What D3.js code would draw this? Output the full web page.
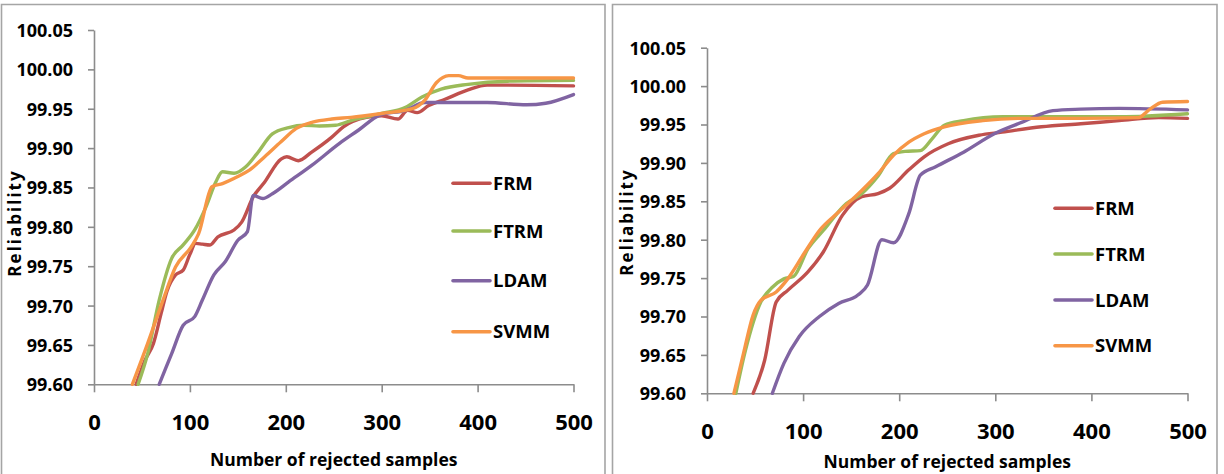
<!DOCTYPE html>
<html><head><meta charset="utf-8">
<script src="https://cdn.jsdelivr.net/npm/d3@7"></script>
<style>
body{margin:0;background:#fff;}
svg{display:block;}
text{font-family:"Open Sans",sans-serif;font-weight:700;fill:#000;}
</style></head>
<body>
<svg id="chart" width="1224" height="474"></svg>
<script>
// ---- data ----
const seriesNames = ["FRM","FTRM","LDAM","SVMM"];
const yTicks = [99.60,99.65,99.70,99.75,99.80,99.85,99.90,99.95,100.00,100.05];
const xTicks = [0,100,200,300,400,500];
const xTitle = "Number of rejected samples";
const yTitle = "Reliability";

// Left chart: [rejected samples, reliability]
const leftFRM = [[44,99.60],[53,99.63],[62,99.652],[70,99.69],[76,99.718],[85,99.739],[93,99.745],[100,99.765],[106,99.779],[113,99.778],[121,99.777],[129,99.787],[146,99.796],[154,99.806],[166,99.838],[178,99.857],[195,99.886],[201,99.889],[213,99.884],[227,99.895],[248,99.914],[260,99.927],[284,99.939],[300,99.941],[317,99.937],[327,99.948],[337,99.945],[349,99.954],[366,99.962],[390,99.974],[410,99.98],[431,99.98],[500,99.979]];
const leftFTRM = [[46,99.60],[56,99.639],[68,99.707],[81,99.76],[93,99.777],[105,99.796],[117,99.826],[127,99.857],[134,99.87],[146,99.868],[158,99.876],[170,99.893],[186,99.918],[203,99.926],[219,99.929],[235,99.928],[252,99.929],[268,99.935],[300,99.944],[325,99.952],[342,99.965],[362,99.975],[390,99.981],[431,99.985],[500,99.986]];
const leftLDAM = [[68,99.60],[81,99.639],[93,99.675],[105,99.686],[113,99.707],[125,99.739],[137,99.756],[150,99.783],[160,99.794],[166,99.84],[176,99.836],[186,99.842],[203,99.857],[227,99.878],[256,99.906],[276,99.923],[298,99.942],[325,99.948],[345,99.958],[370,99.958],[410,99.958],[451,99.955],[471,99.957],[500,99.968]];
const leftSVMM = [[40,99.60],[56,99.652],[72,99.707],[85,99.749],[101,99.774],[109,99.791],[123,99.851],[134,99.855],[150,99.864],[162,99.872],[178,99.889],[195,99.908],[211,99.925],[228,99.933],[248,99.937],[268,99.939],[300,99.944],[332,99.95],[345,99.961],[357,99.983],[370,99.992],[380,99.992],[390,99.989],[431,99.989],[500,99.989]];

// Right chart
const rightFRM = [[48,99.60],[60,99.643],[72,99.719],[84,99.734],[105,99.758],[121,99.784],[141,99.832],[161,99.856],[178,99.86],[190,99.867],[210,99.891],[226,99.908],[251,99.925],[283,99.936],[307,99.94],[348,99.947],[389,99.951],[429,99.955],[470,99.959],[500,99.958]];
const rightFTRM = [[30,99.60],[40,99.656],[56,99.719],[68,99.738],[80,99.749],[90,99.752],[105,99.788],[121,99.812],[145,99.847],[161,99.86],[178,99.883],[194,99.912],[206,99.915],[222,99.916],[234,99.931],[247,99.949],[267,99.955],[308,99.96],[348,99.96],[429,99.96],[500,99.964]];
const rightLDAM = [[68,99.60],[80,99.639],[96,99.674],[117,99.70],[137,99.717],[157,99.728],[167,99.741],[182,99.80],[194,99.796],[210,99.834],[222,99.884],[238,99.895],[267,99.914],[299,99.938],[328,99.953],[360,99.968],[389,99.97],[429,99.971],[500,99.969]];
const rightSVMM = [[28,99.60],[38,99.652],[48,99.702],[56,99.721],[72,99.732],[84,99.749],[101,99.782],[117,99.812],[137,99.836],[161,99.864],[178,99.886],[194,99.91],[210,99.927],[226,99.938],[247,99.947],[287,99.955],[328,99.958],[389,99.958],[449,99.959],[461,99.97],[474,99.979],[500,99.98]];

// ---- drawing ----
const colors = {FRM:"#C0504D",FTRM:"#9BBB59",LDAM:"#8064A2",SVMM:"#F79646"};
const svg = d3.select("#chart");

function drawPanel(p){
  const g = svg.append("g");
  // frame (open at the bottom, cut by the picture)
  g.append("path")
    .attr("d",`M${p.frame[0]},480 V${p.frame[1]} H${p.frame[2]} V480`)
    .attr("fill","none").attr("stroke","#a5a5a5").attr("stroke-width",1.6);

  const x = d3.scaleLinear().domain([0,500]).range(p.xr);
  const y = d3.scaleLinear().domain([99.6,100.05]).range(p.yr);

  const yAxis = g.append("g").attr("transform",`translate(${p.xr[0]},0)`)
    .call(d3.axisLeft(y).tickValues(yTicks).tickFormat(d3.format(".2f")).tickSize(6).tickSizeOuter(0).tickPadding(15));
  yAxis.selectAll("text").style("font-size","18px").attr("dy","0.36em");
  const xAxis = g.append("g").attr("transform",`translate(0,${p.yr[0]})`)
    .call(d3.axisBottom(x).tickValues(xTicks).tickSize(8).tickSizeOuter(0).tickPadding(22));
  xAxis.selectAll("text").style("font-size","22px");
  g.selectAll(".domain, .tick line").attr("stroke","#8c8c8c").attr("stroke-width",1.6);

  const line = d3.line().x(d=>x(d[0])).y(d=>y(d[1])).curve(d3.curveMonotoneX);
  p.series.forEach((s,i)=>{
    g.append("path").datum(s).attr("d",line)
      .attr("fill","none").attr("stroke",colors[seriesNames[i]])
      .attr("stroke-width",3.4).attr("stroke-linejoin","round").attr("stroke-linecap","round");
  });

  // legend
  seriesNames.forEach((n,i)=>{
    const ly = p.legY[i];
    g.append("line").attr("x1",p.legX[0]).attr("x2",p.legX[1]).attr("y1",ly).attr("y2",ly)
      .attr("stroke",colors[n]).attr("stroke-width",3.6).attr("stroke-linecap","round");
    g.append("text").attr("x",p.legX[2]).attr("y",ly).attr("dy","0.36em")
      .style("font-size","18.5px").text(n);
  });

  g.append("text").attr("x",(p.xr[0]+p.xr[1])/2).attr("y",p.xtY)
    .attr("text-anchor","middle").attr("dy","0.36em").style("font-size","17.5px").text(xTitle);
  g.append("text").attr("transform",`translate(${p.ytX},${p.ytY}) rotate(-90)`)
    .attr("text-anchor","middle").attr("dy","0.36em").style("font-size","17px")
    .style("letter-spacing","2px").text(yTitle);
}

drawPanel({frame:[1.5,4.5,605], xr:[94,573.5], yr:[384.3,30],
  series:[leftFRM,leftFTRM,leftLDAM,leftSVMM],
  legX:[453,490,493], legY:[183.3,231,280.7,331.7], xtY:460, ytX:15, ytY:223});
drawPanel({frame:[612.5,4.5,1217], xr:[707,1187.5], yr:[393.3,47.7],
  series:[rightFRM,rightFTRM,rightLDAM,rightSVMM],
  legX:[1055,1092,1095], legY:[208.3,254,300,345.7], xtY:461.5, ytX:627, ytY:222});
</script>
</body></html>
